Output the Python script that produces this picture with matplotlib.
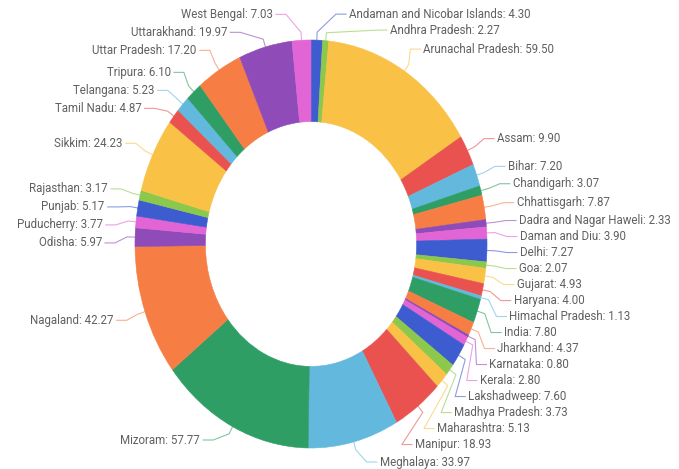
import numpy as np
import matplotlib.pyplot as plt

states = [
    "Andaman and Nicobar Islands", "Andhra Pradesh", "Arunachal Pradesh", "Assam",
    "Bihar", "Chandigarh", "Chhattisgarh", "Dadra and Nagar Haweli", "Daman and Diu",
    "Delhi", "Goa", "Gujarat", "Haryana", "Himachal Pradesh", "India", "Jharkhand",
    "Karnataka", "Kerala", "Lakshadweep", "Madhya Pradesh", "Maharashtra", "Manipur",
    "Meghalaya", "Mizoram", "Nagaland", "Odisha", "Puducherry", "Punjab", "Rajasthan",
    "Sikkim", "Tamil Nadu", "Telangana", "Tripura", "Uttar Pradesh", "Uttarakhand",
    "West Bengal",
]
rates = [
    4.30, 2.27, 59.50, 9.90, 7.20, 3.07, 7.87, 2.33, 3.90, 7.27, 2.07, 4.93, 4.00,
    1.13, 7.80, 4.37, 0.80, 2.80, 7.60, 3.73, 5.13, 18.93, 33.97, 57.77, 42.27,
    5.97, 3.77, 5.17, 3.17, 24.23, 4.87, 5.23, 6.10, 17.20, 19.97, 7.03,
]

PALETTE = ["#3d5ccf", "#8cc84b", "#f9c247", "#e9524f", "#63b8de",
           "#2f9e64", "#f67e45", "#8f4bb8", "#e165d5"]
TEXT = "#606060"

W, H = 679, 469
CX, CY = 311, 244      # ring centre in px
RX, RY = 176, 204      # outer radii in px (source image is squashed sideways)
HOLE = 0.6
LX, LY = 206, 230      # ellipse the labels sit on
GAP = {1: 16, -1: 18}
BOTTOM = {1: 462, -1: 440}
S = RY / RX


def to_data(x, y):
    return np.asarray(x) * S, H - np.asarray(y)


fig = plt.figure(figsize=(W / 100, H / 100), dpi=100)
ax = fig.add_axes([0, 0, 1, 1])
colors = [PALETTE[i % len(PALETTE)] for i in range(len(rates))]
wedges, _ = ax.pie(
    rates, colors=colors, startangle=90, counterclock=False, radius=RY,
    center=(CX * S, H - CY), wedgeprops=dict(width=RY * (1 - HOLE), linewidth=0.4),
)
for w in wedges:
    w.set_edgecolor(w.get_facecolor())
ax.set_aspect("auto")
ax.set_xlim(0, W * S)
ax.set_ylim(0, H)
ax.axis("off")

mid = np.deg2rad([(w.theta1 + w.theta2) / 2 for w in wedges])
side = np.where(np.cos(mid) >= 0, 1, -1)
natural_y = CY - LY * np.sin(mid)
label_y = natural_y.copy()
for s in (1, -1):
    idx = np.where(side == s)[0]
    idx = idx[np.argsort(natural_y[idx])]
    ys = natural_y[idx].copy()
    for i in range(1, len(ys)):
        ys[i] = max(ys[i], ys[i - 1] + GAP[s])
    ys[-1] = min(ys[-1], BOTTOM[s])
    for i in range(len(ys) - 2, -1, -1):
        ys[i] = min(ys[i], ys[i + 1] - GAP[s])
    label_y[idx] = ys

for i, (name, val) in enumerate(zip(states, rates)):
    c, sn, sd = np.cos(mid[i]), np.sin(mid[i]), side[i]
    ly = label_y[i]
    dy = np.clip((ly - CY) / LY, -1, 1)
    lx = CX + sd * max(LX * np.sqrt(1 - dy ** 2), 35)
    px = [CX + RX * c, CX + (RX + 8) * c, lx - sd * 10, lx]
    py = [CY - RY * sn, CY - (RY + 8) * sn, ly, ly]
    xd, yd = to_data(px, py)
    ax.plot(xd, yd, color=colors[i], alpha=0.6, lw=0.8, solid_joinstyle="round")
    tx, ty = to_data(lx + sd * 3, ly)
    ax.text(tx, ty, f"{name}: {val:.2f}", ha="left" if sd > 0 else "right",
            va="center", fontsize=8.3, color=TEXT, family="Roboto")

fig.savefig("out.png", dpi=100, facecolor="white")
